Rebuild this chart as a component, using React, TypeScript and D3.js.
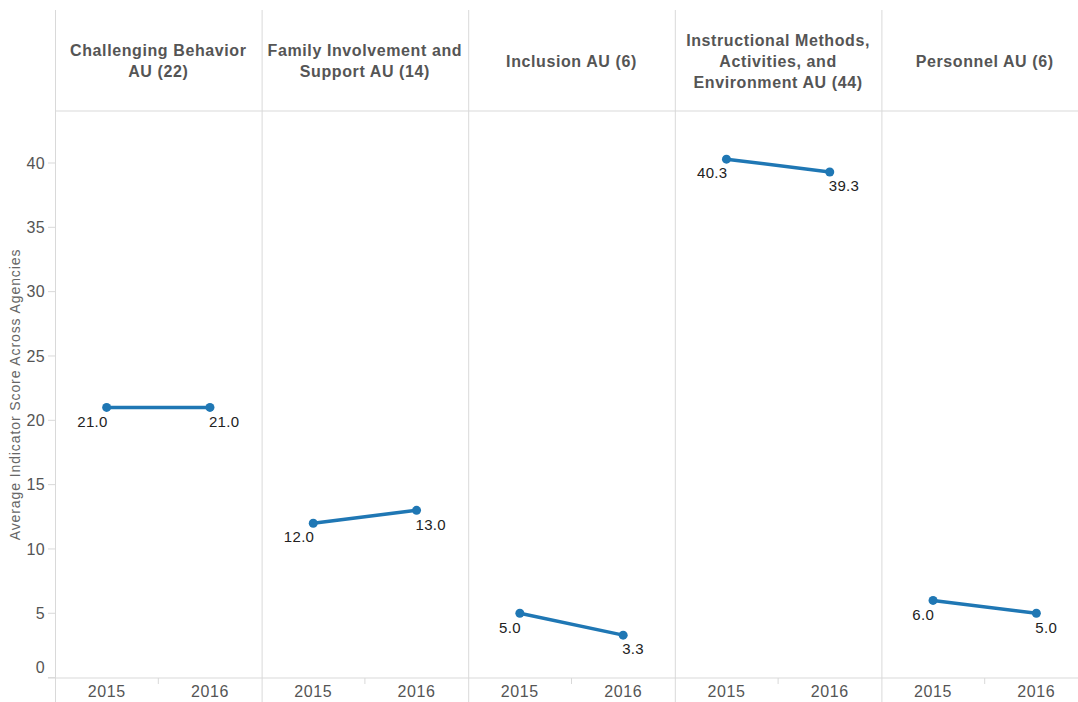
import React from "react";
import * as d3 from "d3";

const categories = [
  ["Challenging Behavior", "AU (22)"],
  ["Family Involvement and", "Support AU (14)"],
  ["Inclusion AU (6)"],
  ["Instructional Methods,", "Activities, and", "Environment AU (44)"],
  ["Personnel AU (6)"],
];
const years = ["2015", "2016"];
const values2015 = [21.0, 12.0, 5.0, 40.3, 6.0];
const values2016 = [21.0, 13.0, 3.3, 39.3, 5.0];
const yTicks = [0, 5, 10, 15, 20, 25, 30, 35, 40];

const W = 1078;
const H = 702;
const left = 55;
const right = 1078;
const headerTop = 10;
const headerBottom = 111;
const axisY = 678;
const font = "'Liberation Sans', Arial, sans-serif";
const gridColor = "#d9d9d9";
const lineColor = "#1f77b4";

export default function App() {
  const panel = d3.scaleBand<number>().domain(d3.range(categories.length)).range([left, left + 206.6 * 5]).padding(0);
  const y = d3.scaleLinear().domain([0, 40]).range([677.6, 163]);
  const x = d3.scalePoint<string>().domain(years).range([0, panel.bandwidth()]).padding(0.5);
  const line = d3.line<[number, number]>().x(d => d[0]).y(d => d[1]);

  return (
    <div style={{ position: "absolute", left: 0, top: 0 }}>
      <svg width={W} height={H} style={{ display: "block", fontFamily: font }}>
        <rect width={W} height={H} fill="#fff" />
        <line x1={left} x2={right} y1={headerBottom} y2={headerBottom} stroke={gridColor} />
        <line x1={48} x2={right} y1={axisY} y2={axisY} stroke={gridColor} />
        {categories.map((_, i) => (
          <line key={"v" + i} x1={panel(i)! + 0.5} x2={panel(i)! + 0.5} y1={headerTop} y2={H} stroke={gridColor} />
        ))}
        {yTicks.map(t => (
          <g key={"yt" + t}>
            <line x1={48} x2={left} y1={y(t)} y2={y(t)} stroke={gridColor} />
            <text x={45} y={t === 0 ? y(t) - 10 : y(t)} dy="0.35em" textAnchor="end" fontSize={16} letterSpacing={0.4} fill="#555">
              {t}
            </text>
          </g>
        ))}
        <text
          transform={`translate(20,${(headerBottom + axisY) / 2}) rotate(-90)`}
          textAnchor="middle"
          fontSize={14}
          letterSpacing={0.9}
          fill="#666"
        >
          Average Indicator Score Across Agencies
        </text>
        {categories.map((cat, i) => {
          const x0 = panel(i)!;
          const cx = x0 + panel.bandwidth() / 2;
          const lh = 21;
          const startY = 61 - ((cat.length - 1) * lh) / 2;
          const p1: [number, number] = [x0 + x("2015")!, y(values2015[i])];
          const p2: [number, number] = [x0 + x("2016")!, y(values2016[i])];
          return (
            <g key={"p" + i}>
              <text textAnchor="middle" fontSize={16} fontWeight="bold" letterSpacing={0.6} fill="#555">
                {cat.map((l, j) => (
                  <tspan key={j} x={cx} y={startY + j * lh} dy="0.35em">
                    {l}
                  </tspan>
                ))}
              </text>
              {years.map(yr => (
                <text key={yr} x={x0 + x(yr)!} y={691} dy="0.35em" textAnchor="middle" fontSize={16} letterSpacing={0.6} fill="#555">
                  {yr}
                </text>
              ))}
              <line x1={cx} x2={cx} y1={axisY} y2={684} stroke={gridColor} />
              <path d={line([p1, p2])!} stroke={lineColor} strokeWidth={3.5} fill="none" />
              <circle cx={p1[0]} cy={p1[1]} r={4.5} fill={lineColor} />
              <circle cx={p2[0]} cy={p2[1]} r={4.5} fill={lineColor} />
              <text x={p1[0] + 1} y={p1[1] + 14} dy="0.35em" textAnchor="end" fontSize={15} letterSpacing={0.3} fill="#222">
                {values2015[i].toFixed(1)}
              </text>
              <text x={p2[0] - 1} y={p2[1] + 14} dy="0.35em" textAnchor="start" fontSize={15} letterSpacing={0.3} fill="#222">
                {values2016[i].toFixed(1)}
              </text>
            </g>
          );
        })}
      </svg>
    </div>
  );
}
